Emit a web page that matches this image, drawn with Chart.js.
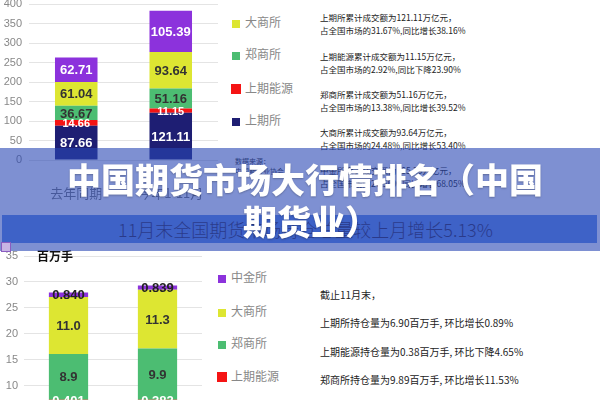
<!DOCTYPE html>
<html>
<head>
<meta charset="utf-8">
<script src="https://cdn.jsdelivr.net/npm/chart.js@4.4.1/dist/chart.umd.min.js"></script>
<style>
body { margin: 0; width: 600px; height: 400px; overflow: hidden; position: relative; background: #fff; font-family: "Noto Sans CJK SC", "Noto Sans", sans-serif; }
canvas { position: absolute; left: 0; }
#topChart { top: -20px; }
#bottomChart { top: 230px; }
.leg { position: absolute; font-size: 12px; line-height: 14px; color: #888; white-space: nowrap; }
.leg i { display: inline-block; width: 8px; height: 8px; margin-right: 5px; vertical-align: -1px; }
.leg i.big { width: 10px; height: 10px; margin-left: -1px; margin-right: 4px; vertical-align: -1px; }
.note { position: absolute; left: 320px; font-size: 8.5px; line-height: 13px; color: #222; white-space: nowrap; }
.note2 { position: absolute; left: 320px; font-size: 10px; line-height: 14px; color: #222; white-space: nowrap; }
#src { position: absolute; left: 235px; top: 156px; font-size: 7px; line-height: 10px; color: #333; white-space: nowrap; }
#banner { position: absolute; left: 2px; top: 215px; width: 595px; height: 28px; background: rgb(95, 140, 228); color: #2f2a4b; font-size: 18px; font-weight: 300; line-height: 28px; text-align: center; text-indent: 12px; z-index: 3; }
#overlay { position: absolute; left: 0; top: 148px; width: 600px; height: 103px; background: rgba(40, 70, 180, 0.6); z-index: 5; }
.title { position: absolute; color: #fff; font-size: 34px; font-weight: 900; line-height: 42px; white-space: nowrap; z-index: 6; text-shadow: 0 1px 2px rgba(0, 0, 0, 0.25); }
#unit { position: absolute; left: 37px; top: 248px; font-size: 12px; font-weight: 700; line-height: 16px; color: #111; }
#icon { position: absolute; left: 1px; top: 242px; width: 8px; height: 8px; border: 1px solid #8a5cc0; background: #c8b4e4; z-index: 6; }
</style>
</head>
<body>
<canvas id="topChart" width="222" height="220"></canvas>
<canvas id="bottomChart" width="205" height="220"></canvas>

<div class="leg" style="left:232px; top:-17px;"><i style="background:#8c32dc"></i>中金所</div>
<div class="leg" style="left:232px; top:15px;"><i style="background:#dde632"></i>大商所</div>
<div class="leg" style="left:232px; top:47px;"><i style="background:#4cbd72"></i>郑商所</div>
<div class="leg" style="left:232px; top:81px;"><i class="big" style="background:#f51414"></i>上期能源</div>
<div class="leg" style="left:232px; top:113px;"><i style="background:#1e1e73"></i>上期所</div>

<div class="note" style="top:11px;">上期所累计成交额为121.11万亿元，<br>占全国市场的31.67%,同比增长38.16%</div>
<div class="note" style="top:50px;">上期能源累计成交额为11.15万亿元，<br>占全国市场的2.92%,同比下降23.90%</div>
<div class="note" style="top:88px;">郑商所累计成交额为51.16万亿元，<br>占全国市场的13.38%,同比增长39.52%</div>
<div class="note" style="top:126px;">大商所累计成交额为93.64万亿元，<br>占全国市场的24.48%,同比增长53.40%</div>
<div class="note" style="top:164px;">中金所累计成交额为105.39万亿元，<br>占全国市场的27.56%,同比增长68.05%</div>
<div id="src">数据来源：<br>中国期货业协会</div>

<div class="leg" style="left:218px; top:270px;"><i style="background:#8c32dc"></i>中金所</div>
<div class="leg" style="left:218px; top:304px;"><i style="background:#dde632"></i>大商所</div>
<div class="leg" style="left:218px; top:336px;"><i style="background:#4cbd72"></i>郑商所</div>
<div class="leg" style="left:218px; top:369px;"><i class="big" style="background:#f51414"></i>上期能源</div>
<div class="leg" style="left:218px; top:402px;"><i style="background:#1e1e73"></i>上期所</div>

<div class="note2" style="top:288px;">截止11月末，</div>
<div class="note2" style="top:316px;">上期所持仓量为6.90百万手, 环比增长0.89%</div>
<div class="note2" style="top:345px;">上期能源持仓量为0.38百万手, 环比下降4.65%</div>
<div class="note2" style="top:373px;">郑商所持仓量为9.89百万手, 环比增长11.53%</div>

<div id="unit">百万手</div>
<div id="banner">11月末全国期货市场持仓总量较上月增长5.13%</div>
<div id="overlay"></div>
<div id="icon"></div>
<div class="title" style="left:67px; top:158px;">中国期货市场大行情排名（中国</div>
<div class="title" style="left:243px; top:200px;">期货业）</div>

<script>
// top chart: 累计成交额 (万亿元)
const topCategories = ['去年同期', '今年1-11月'];
const topShfe = [87.66, 121.11];
const topIne = [14.66, 11.15];
const topCzce = [36.67, 51.16];
const topDce = [61.04, 93.64];
const topCffex = [62.71, 105.39];

// bottom chart: 持仓量 (百万手)
const bottomCategories = ['10月末', '11月末'];
const bottomShfe = [6.84, 6.90];
const bottomIne = [0.401, 0.382];
const bottomCzce = [8.87, 9.89];
const bottomDce = [11.0, 11.3];
const bottomCffex = [0.840, 0.839];

const navy = '#1e1e73';
const red = '#f51414';
const green = '#4cbd72';
const yellow = '#dde632';
const purple = '#8c32dc';

// draws the value in the middle of each stacked segment
const barLabels = {
    id: 'barLabels',
    afterDatasetsDraw(chart) {
        const ctx = chart.ctx;
        chart.data.datasets.forEach((ds, i) => {
            const meta = chart.getDatasetMeta(i);
            meta.data.forEach((bar, j) => {
                ctx.save();
                ctx.font = 'bold ' + ds.labelSize + 'px "Liberation Sans", Arial, sans-serif';
                ctx.fillStyle = ds.labelColor;
                ctx.textAlign = 'center';
                ctx.textBaseline = 'middle';
                ctx.fillText(ds.data[j].toFixed(ds.decimals), bar.x, (bar.y + bar.base) / 2 + 1);
                ctx.restore();
            });
        });
    }
};

function makeDataset(label, data, color, labelColor, decimals, labelSize) {
    return {
        label: label,
        data: data,
        backgroundColor: color,
        borderWidth: 0,
        labelColor: labelColor,
        decimals: decimals,
        labelSize: labelSize
    };
}

const topConfig = {
    type: 'bar',
    data: {
        labels: topCategories,
        datasets: [
            makeDataset('上期所', topShfe, navy, '#fff', 2, 13),
            makeDataset('上期能源', topIne, red, '#fff', 2, 11),
            makeDataset('郑商所', topCzce, green, '#333', 2, 13),
            makeDataset('大商所', topDce, yellow, '#333', 2, 13),
            makeDataset('中金所', topCffex, purple, '#fff', 2, 13)
        ]
    },
    options: {
        responsive: false,
        animation: false,
        layout: { padding: { top: 24, right: 4, left: 0, bottom: 0 } },
        datasets: { bar: { barPercentage: 0.9, categoryPercentage: 0.5 } },
        plugins: { legend: { display: false }, tooltip: { enabled: false } },
        scales: {
            x: {
                stacked: true,
                grid: { display: false },
                border: { display: false },
                ticks: { color: '#777', font: { size: 13, family: '"Noto Sans CJK SC"' }, padding: 17 },
                afterFit: (scale) => { scale.height = 40; }
            },
            y: {
                stacked: true,
                min: 0,
                max: 400,
                ticks: { stepSize: 50, color: '#888', font: { size: 11, family: '"Liberation Sans", Arial' }, padding: 7 },
                grid: { color: '#e4e4e4', drawTicks: false },
                border: { display: false },
                afterFit: (scale) => { scale.width = 29; }
            }
        }
    },
    plugins: [barLabels]
};

new Chart(
    document.getElementById('topChart'),
    topConfig
);

const bottomConfig = {
    type: 'bar',
    data: {
        labels: bottomCategories,
        datasets: [
            makeDataset('上期所', bottomShfe, navy, '#fff', 2, 13),
            makeDataset('上期能源', bottomIne, red, '#fff', 3, 13),
            makeDataset('郑商所', bottomCzce, green, '#333', 1, 13),
            makeDataset('大商所', bottomDce, yellow, '#333', 1, 13),
            makeDataset('中金所', bottomCffex, purple, '#222', 3, 13)
        ]
    },
    options: {
        responsive: false,
        animation: false,
        layout: { padding: { top: 26, right: 3, left: 0, bottom: 0 } },
        datasets: { bar: { barPercentage: 0.9, categoryPercentage: 0.49 } },
        plugins: { legend: { display: false }, tooltip: { enabled: false } },
        scales: {
            x: {
                stacked: true,
                grid: { display: false },
                border: { display: false },
                ticks: { display: false },
                afterFit: (scale) => { scale.height = 11; }
            },
            y: {
                stacked: true,
                min: 0,
                max: 35,
                ticks: { stepSize: 5, color: '#888', font: { size: 11, family: '"Liberation Sans", Arial' }, padding: 6 },
                grid: { color: '#e4e4e4', drawTicks: false },
                border: { display: false },
                afterFit: (scale) => { scale.width = 24; }
            }
        }
    },
    plugins: [barLabels]
};

new Chart(
    document.getElementById('bottomChart'),
    bottomConfig
);
</script>
</body>
</html>
